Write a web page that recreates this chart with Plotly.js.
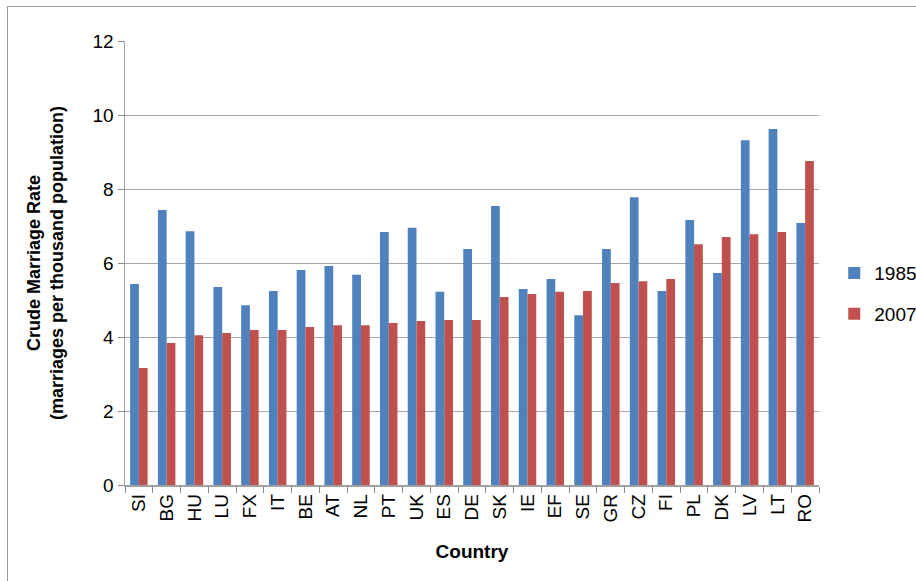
<!DOCTYPE html>
<html>
<head>
<meta charset="utf-8">
<script src="https://cdn.plot.ly/plotly-3.0.1.min.js"></script>
<style>
  html, body { margin: 0; padding: 0; background: #fff; }
  #wrap { position: relative; width: 916px; height: 581px; overflow: hidden; }
  #chart { width: 916px; height: 581px; }
  #frame { position: absolute; left: 7px; top: 6px; width: 1000px; height: 700px; border-left: 1px solid #9a9a9a; border-top: 1px solid #9a9a9a; pointer-events: none; }
</style>
</head>
<body>
<div id="wrap"><div id="chart"></div><div id="frame"></div></div>
<script>
const countries = ["SI","BG","HU","LU","FX","IT","BE","AT","NL","PT","UK","ES","DE","SK","IE","EF","SE","GR","CZ","FI","PL","DK","LV","LT","RO"];
const rate1985 = [5.43,7.43,6.86,5.35,4.86,5.24,5.81,5.92,5.68,6.84,6.95,5.22,6.38,7.54,5.30,5.57,4.59,6.38,7.78,5.24,7.16,5.73,9.32,9.62,7.08];
const rate2007 = [3.16,3.84,4.05,4.11,4.19,4.19,4.27,4.32,4.32,4.38,4.43,4.46,4.46,5.08,5.16,5.22,5.24,5.46,5.51,5.57,6.51,6.70,6.78,6.84,8.76];
const yTicks = [0,2,4,6,8,10,12];

const font = "Liberation Sans, Arial, sans-serif";
const traces = [
  { type: "bar", name: "1985", legendgroup: "a", x: countries, y: rate1985, marker: { color: "#4F81BD" } },
  { type: "bar", name: "2007", legendgroup: "b", x: countries, y: rate2007, marker: { color: "#C0504D" } }
];
const layout = {
  width: 916, height: 581,
  margin: { l: 125, r: 97, t: 41, b: 96, autoexpand: false },
  paper_bgcolor: "#fff", plot_bgcolor: "#fff",
  font: { family: font, size: 19, color: "#000" },
  barmode: "group", bargap: 0.37, bargroupgap: 0,
  showlegend: true,
  legend: { x: 1.022, y: 0.52, xanchor: "left", yanchor: "top", font: { size: 19 }, traceorder: "grouped", tracegroupgap: 13, itemwidth: 30 },
  xaxis: {
    type: "category", tickangle: -90, tickson: "boundaries",
    ticks: "outside", ticklen: 6, tickcolor: "#888",
    showline: true, linecolor: "#a0a0a0", linewidth: 1.5,
    showgrid: false, tickfont: { size: 19 }, automargin: false,
    title: { text: "<b>Country</b>", font: { size: 19 }, standoff: 23 }
  },
  yaxis: {
    range: [0, 12], tickvals: yTicks, ticktext: yTicks.map(String),
    ticks: "outside", ticklen: 6, tickcolor: "#888",
    showline: true, linecolor: "#a0a0a0", linewidth: 1.5,
    showgrid: true, gridcolor: "#a6a6a6", gridwidth: 1,
    zeroline: false, tickfont: { size: 19 }, automargin: false,
    title: { text: "<b>Crude Marriage Rate<br>(marriages per thousand population)</b>", font: { size: 18 }, standoff: 24 }
  }
};
Plotly.newPlot("chart", traces, layout, { displayModeBar: false, staticPlot: true });
</script>
</body>
</html>
